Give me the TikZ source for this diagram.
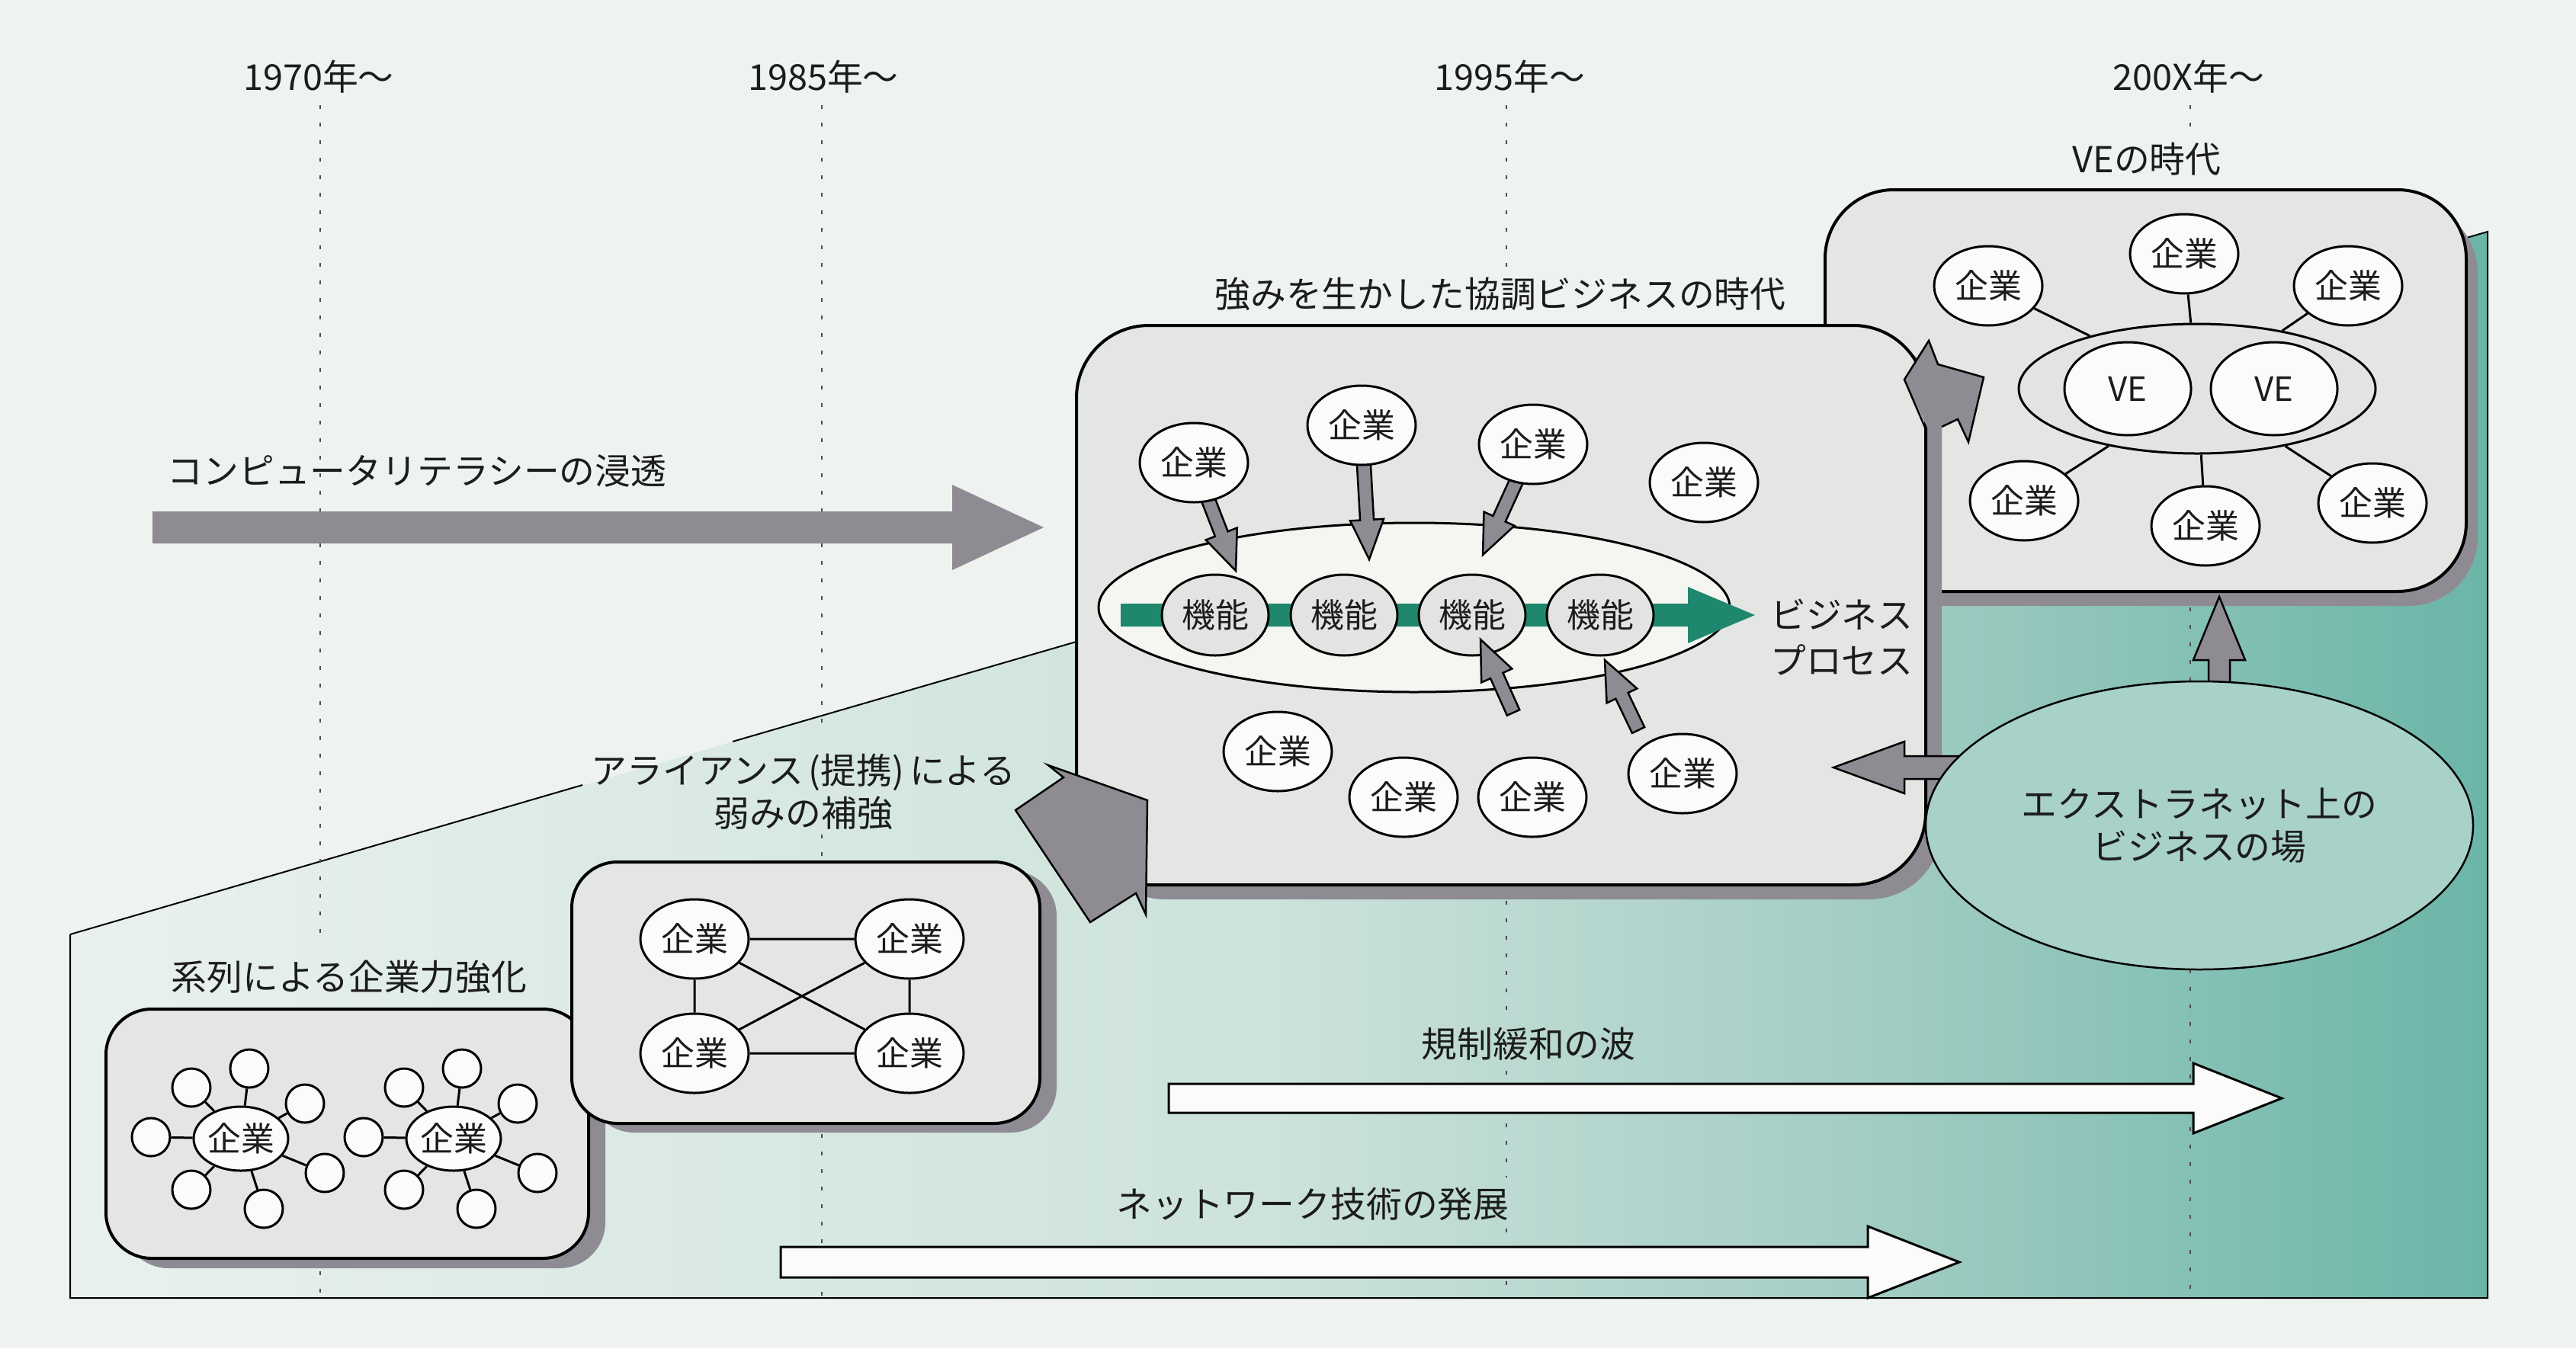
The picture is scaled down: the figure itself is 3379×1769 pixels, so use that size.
\documentclass[tikz,border=0pt]{standalone}
\usepackage{fontspec}
\newfontfamily\jpf{Noto Sans CJK JP}
\usetikzlibrary{calc,shapes.geometric}
\definecolor{bgc}{HTML}{EEF3F0}
\definecolor{boxc}{HTML}{E4E6E3}
\definecolor{whc}{HTML}{FBFBF9}
\definecolor{kinc}{HTML}{E1E4E1}
\definecolor{ellc}{HTML}{F5F6F2}
\definecolor{shc}{HTML}{8E8C92}
\definecolor{grn}{HTML}{1F876D}
\definecolor{extc}{HTML}{A8D1C8}
\definecolor{txtc}{HTML}{1C1C1C}
\definecolor{g0}{HTML}{E9F1ED}
\definecolor{g1}{HTML}{CCE2DB}
\definecolor{g2}{HTML}{A3CDC4}
\definecolor{g3}{HTML}{6BB5A8}
\pgfdeclarehorizontalshading{tealgrad}{100bp}{color(0bp)=(g0); color(25bp)=(g0); color(50bp)=(g1); color(62bp)=(g2); color(75bp)=(g3); color(100bp)=(g3)}
\newcommand{\fatarr}[6]{%
  \coordinate (fab) at ($(#3)!#6!(#2)$);
  \path[#1] ($(#2)!#4!90:(#3)$) -- ($(fab)!#4!90:(#3)$) -- ($(fab)!#5!90:(#3)$) -- (#3)
    -- ($(fab)!#5!-90:(#3)$) -- ($(fab)!#4!-90:(#3)$) -- ($(#2)!#4!-90:(#3)$) -- cycle;}
\tikzset{
  bx/.style={draw=black, line width=4bp, fill=boxc, rounded corners=#1},
  shd/.style={fill=shc, rounded corners=#1},
  nf/.style={font=\jpf\fontsize{44}{54}\selectfont},
  kig/.style={nf, ellipse, draw=black, line width=3bp, fill=whc, minimum width=142bp, minimum height=104bp, inner sep=0pt},
  kin/.style={nf, ellipse, draw=black, line width=3bp, fill=kinc, minimum width=140bp, minimum height=106bp, inner sep=0pt},
  vec/.style={nf, ellipse, draw=black, line width=3bp, fill=whc, minimum width=166bp, minimum height=122bp, inner sep=0pt},
  hubn/.style={nf, ellipse, draw=black, line width=3bp, fill=whc, minimum width=124bp, minimum height=84bp, inner sep=0pt},
  smc/.style={circle, draw=black, line width=3bp, fill=whc, minimum size=50bp, inner sep=0pt},
  conn/.style={draw=black, line width=3bp},
  garr/.style={fill=shc, draw=black, line width=2.5bp, line join=miter},
  bigarr/.style={fill=shc},
  grarr/.style={fill=grn},
  warr/.style={fill=whc, draw=black, line width=3bp, line join=miter},
  dotl/.style={draw=black!70, line width=2.5bp, dash pattern=on 5bp off 18bp},
  lbl/.style={inner sep=0pt, text=txtc},
  pedge/.style={draw=black, line width=2bp}
}
\begin{document}
\begin{tikzpicture}[x=1bp,y=-1bp, font=\jpf\fontsize{47}{56}\selectfont, text=txtc]
\useasboundingbox (0,0) rectangle (3379,1769);
\fill[bgc] (0,0) rectangle (3379,1769);
% gradient region
\shade[shading=tealgrad] (92,1226) -- (3263,304) -- (3263,1703) -- (92,1703) -- cycle;
\draw[pedge] (92,1226) -- (764,1030) (961,973) -- (3263,304) -- (3263,1703) -- (92,1703) -- (92,1226);
% dotted time lines
\draw[dotl] (420,138) -- (420,1226) (420,1668) -- (420,1703);
\draw[dotl] (1078,138) -- (1078,960) (1078,1095) -- (1078,1131) (1078,1488) -- (1078,1703);
\draw[dotl] (1976,138) -- (1976,358) (1976,1182) -- (1976,1335) (1976,1405) -- (1976,1545) (1976,1612) -- (1976,1703);
\draw[dotl] (2873,138) -- (2873,180) (2873,797) -- (2873,894) (2873,1272) -- (2873,1703);
% years
\node[lbl] (y1) at (418,101) {1970年～};
\node[lbl] (y2) at (1080,101) {1985年～};
\node[lbl] (y3) at (1980,101) {1995年～};
\node[lbl] (y4) at (2871,101) {200X年～};
% computer literacy arrow
\coordinate (cs) at (200,692);
\coordinate (ct) at (1369,692);
\fatarr{bigarr}{cs}{ct}{21bp}{56bp}{120bp}
\node[lbl] (lcomp) at (547,618) {コンピュータリテラシーの浸透};
% keiretsu box
\fill[shd=60bp] (161,1337) rectangle (794,1664);
\draw[bx=60bp] (139,1324) rectangle (772,1651);
\node[lbl] (lkei) at (458,1282) {系列による企業力強化};
\node[hubn] (h1) at (316,1494) {企業};
\node[hubn] (h2) at (595,1494) {企業};
\foreach \dx/\dy [count=\i] in {-65/-67, 11/-92, 84/-46, -118/-2, 110/45, -65/67, 30/92} {
  \node[smc] (ha\i) at ($(h1)+(\dx,\dy)$) {};
  \draw[conn] (h1) -- (ha\i);
  \node[smc] (hb\i) at ($(h2)+(\dx,\dy)$) {};
  \draw[conn] (h2) -- (hb\i);
}
% alliance box
\fill[shd=60bp] (772,1142) rectangle (1386,1486);
\draw[bx=60bp] (750,1131) rectangle (1364,1474);
\node[kig] (a1) at (911,1232) {企業};
\node[kig] (a2) at (1193,1232) {企業};
\node[kig] (a3) at (911,1382) {企業};
\node[kig] (a4) at (1193,1382) {企業};
\draw[conn] (a1) -- (a2) (a3) -- (a4) (a1) -- (a3) (a2) -- (a4) (a1) -- (a4) (a2) -- (a3);
\node[lbl, align=center] (lall) at (1054,1039) {アライアンス\kern7bp(提携)\kern7bp による\\弱みの補強};
% VE box
\fill[shd=90bp] (2409,268) rectangle (3250,795);
\draw[bx=90bp] (2394,249) rectangle (3235,776);
\node[lbl] (lve) at (2816,209) {VEの時代};
\node[ellipse, draw=black, line width=3bp, fill=kinc, minimum width=468bp, minimum height=170bp] (vell) at (2882,510) {};
\node[vec] (ve1) at (2791,510) {VE};
\node[vec] (ve2) at (2983,510) {VE};
\node[kig] (v1) at (2608,375) {企業};
\node[kig] (v2) at (2865,333) {企業};
\node[kig] (v3) at (3080,375) {企業};
\node[kig] (v4) at (2655,657) {企業};
\node[kig] (v5) at (2893,690) {企業};
\node[kig] (v6) at (3112,660) {企業};
\foreach \v in {v1,v2,v3,v4,v5,v6} { \draw[conn] (\v) -- (vell); }
% middle box
\fill[shd=95bp] (1433,446) rectangle (2547,1180);
\draw[bx=95bp] (1412,427) rectangle (2526,1161);
\node[lbl] (lkyo) at (1968,386) {強みを生かした協調ビジネスの時代};
\node[ellipse, draw=black, line width=3bp, fill=ellc, minimum width=828bp, minimum height=222bp] (mell) at (1855,797) {};
\coordinate (gs) at (1470,807);
\coordinate (gt) at (2302,807);
\fatarr{grarr}{gs}{gt}{15bp}{37bp}{88bp}
\node[kin] (f1) at (1594,807) {機能};
\node[kin] (f2) at (1763,807) {機能};
\node[kin] (f3) at (1931,807) {機能};
\node[kin] (f4) at (2099,807) {機能};
\coordinate (ck1) at (1566,607);
\coordinate (ck2) at (1786,558);
\coordinate (ck3) at (2011,583);
\coordinate (t1) at (1621,749);
\coordinate (t2) at (1796,734);
\coordinate (t3) at (1945,728);
\coordinate (s4) at (1985,935);
\coordinate (t4) at (1942,839);
\coordinate (s5) at (2149,958);
\coordinate (t5) at (2105,866);
\fatarr{garr}{ck1}{t1}{9bp}{22bp}{52bp}
\fatarr{garr}{ck2}{t2}{9bp}{22bp}{52bp}
\fatarr{garr}{ck3}{t3}{9bp}{22bp}{52bp}
\fatarr{garr}{s4}{t4}{9bp}{22bp}{52bp}
\fatarr{garr}{s5}{t5}{9bp}{22bp}{52bp}
\node[kig] (k1) at (ck1) {企業};
\node[kig] (k2) at (ck2) {企業};
\node[kig] (k3) at (ck3) {企業};
\node[kig] (k4) at (2235,633) {企業};
\node[kig] (k5) at (1676,986) {企業};
\node[kig] (k6) at (1841,1046) {企業};
\node[kig] (k7) at (2010,1046) {企業};
\node[kig] (k8) at (2207,1015) {企業};
\node[lbl, align=left, anchor=west, font=\jpf\fontsize{47}{61}\selectfont] (lbp) at (2322,836) {ビジネス\\プロセス};
% bent arrow into middle box
\path[garr] (1375,1004) -- (1395,1020) -- (1332,1063) -- (1430,1210) -- (1490,1172) -- (1503,1200) -- (1505,1050) -- cycle;
% bent arrow into VE box
\fill[shc] (2529,563) -- (2498,498) -- (2530,447) -- (2542,478) -- (2602,495) -- (2582,580) -- (2568,550) -- (2547,560) -- (2547,640) -- (2529,640) -- cycle;
\draw[line width=2.5bp, line join=miter] (2526,563) -- (2498,498) -- (2530,447) -- (2542,478) -- (2602,495) -- (2582,580) -- (2568,550) -- (2547,560);
% extranet arrows and ellipse
\coordinate (es1) at (2600,1007);
\coordinate (et1) at (2405,1007);
\fatarr{garr}{es1}{et1}{15bp}{34bp}{93bp}
\coordinate (es2) at (2911,940);
\coordinate (et2) at (2911,783);
\fatarr{garr}{es2}{et2}{14bp}{34bp}{83bp}
\node[ellipse, draw=black, line width=2.5bp, fill=extc, minimum width=718bp, minimum height=378bp, align=center] (ext) at (2885,1083) {エクストラネット上の\\ビジネスの場};
% white arrows
\coordinate (ws1) at (1533,1441);
\coordinate (wt1) at (2993,1441);
\fatarr{warr}{ws1}{wt1}{19bp}{46bp}{116bp}
\node[lbl] (lkis) at (2005,1370) {規制緩和の波};
\coordinate (ws2) at (1024,1656);
\coordinate (wt2) at (2570,1656);
\fatarr{warr}{ws2}{wt2}{20bp}{47bp}{120bp}
\node[lbl] (lnet) at (1722,1580) {ネットワーク技術の発展};
\end{tikzpicture}
\end{document}
